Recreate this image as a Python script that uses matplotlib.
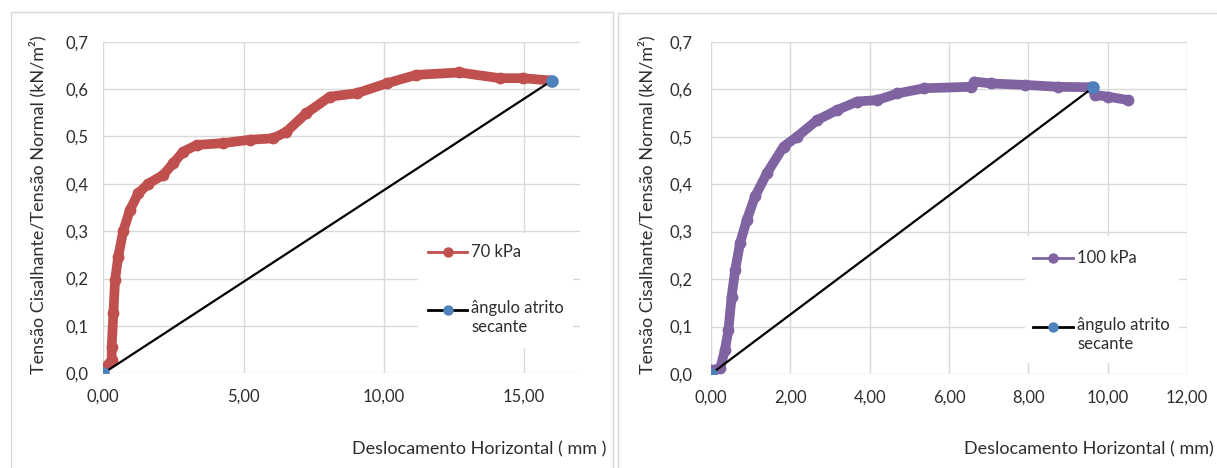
import matplotlib
matplotlib.use("Agg")
import matplotlib.pyplot as plt
from matplotlib.lines import Line2D
from matplotlib.patches import Rectangle

plt.rcParams['font.family'] = ['Lato', 'DejaVu Sans']

# 70 kPa test: displacement (mm) vs shear/normal stress ratio
disp_70 = [0.0, 0.30, 0.30, 0.36, 0.42, 0.53, 0.71, 0.95, 1.25, 1.60, 2.14, 2.49,
           2.85, 3.33, 4.28, 5.23, 6.06, 6.53, 7.24, 8.08, 9.03, 10.10, 11.16,
           12.70, 14.13, 14.96, 15.97]
ratio_70 = [0.007, 0.028, 0.056, 0.127, 0.197, 0.246, 0.300, 0.345, 0.380, 0.400,
            0.419, 0.443, 0.468, 0.482, 0.486, 0.493, 0.496, 0.510, 0.549, 0.584,
            0.591, 0.612, 0.630, 0.635, 0.623, 0.623, 0.618]
secant_70_x = [0.0, 16.0]
secant_70_y = [0.0, 0.618]

# 100 kPa test
disp_100 = [0.0, 0.23, 0.35, 0.44, 0.52, 0.61, 0.73, 0.90, 1.11, 1.41, 1.83, 2.17,
            2.68, 3.18, 3.69, 4.19, 4.70, 5.38, 6.56, 6.64, 7.06, 7.91, 8.75,
            9.59, 9.68, 10.02, 10.52]
ratio_100 = [0.008, 0.012, 0.050, 0.093, 0.163, 0.219, 0.275, 0.324, 0.374, 0.423,
             0.479, 0.500, 0.535, 0.556, 0.574, 0.577, 0.591, 0.602, 0.605, 0.616,
             0.612, 0.609, 0.605, 0.604, 0.588, 0.584, 0.577]
secant_100_x = [0.0, 9.64]
secant_100_y = [0.0, 0.604]

y_ticks = [0.0, 0.1, 0.2, 0.3, 0.4, 0.5, 0.6, 0.7]
x_ticks_70 = [0, 5, 10, 15]
x_ticks_100 = [0, 2, 4, 6, 8, 10, 12]

RED = '#C0504D'
PURPLE = '#8064A2'
BLUE = '#4F81BD'
GRID = '#D9D9D9'
TXT = '#2E2E2E'

W, H = 1217, 468
fig = plt.figure(figsize=(W / 100, H / 100), dpi=100)


def fx(px):
    return px / W


def fy(py):
    return 1 - py / H


def comma(v, nd):
    return f"{v:.{nd}f}".replace('.', ',')


def setup(ax, xmax, xticks, ypad):
    ax.set_xlim(0, xmax)
    ax.set_ylim(0, 0.7)
    ax.set_yticks(y_ticks)
    ax.set_yticklabels([comma(v, 1) for v in y_ticks])
    ax.set_xticks(xticks)
    ax.set_xticklabels([comma(v, 2) for v in xticks])
    ax.grid(True, color=GRID, lw=1.0)
    ax.set_axisbelow(True)
    for s in ax.spines.values():
        s.set_visible(False)
    ax.tick_params(length=0, labelsize=12, colors=TXT)
    ax.tick_params(axis='y', pad=ypad)
    ax.tick_params(axis='x', pad=11)


def draw_series(ax, x, y, color, sx, sy):
    ax.plot(x, y, color=color, lw=7.0, solid_capstyle='round',
            solid_joinstyle='round', zorder=3)
    ax.plot(x, y, 'o', color=color, ms=7.5, zorder=3)
    ax.plot(sx, sy, color='black', lw=1.6, zorder=4)
    ax.plot(sx, sy, 'o', color=BLUE, ms=8, zorder=5)


def legend(ax, box, series_label, color, y1, y2, x0, x1):
    bx0, by0, bx1, by1 = box
    ax.add_patch(Rectangle((fx(bx0), fy(by1)), fx(bx1) - fx(bx0), fy(by0) - fy(by1),
                           transform=fig.transFigure, facecolor='white',
                           edgecolor='none', zorder=2, clip_on=False))
    for yy, c in ((y1, color), (y2, 'black')):
        ax.add_line(Line2D([fx(x0), fx(x1)], [fy(yy), fy(yy)], color=c, lw=2,
                           transform=fig.transFigure, clip_on=False, zorder=6))
    ax.add_line(Line2D([fx((x0 + x1) / 2)], [fy(y1)], marker='o', ms=6.5, color=color,
                       transform=fig.transFigure, clip_on=False, zorder=7))
    ax.add_line(Line2D([fx((x0 + x1) / 2)], [fy(y2)], marker='o', ms=6.5, color=BLUE,
                       transform=fig.transFigure, clip_on=False, zorder=7))
    fig.text(fx(x1 + 4), fy(y1), series_label, fontsize=12, color=TXT,
             va='center', ha='left')
    fig.text(fx(x1 + 4), fy(y2 - 10), 'ângulo atrito\nsecante', fontsize=12,
             color=TXT, va='top', ha='left', linespacing=1.2)


ax1 = fig.add_axes([fx(103.3), fy(373.3), fx(580) - fx(103.3), fy(41.7) - fy(373.3)])
setup(ax1, 17, x_ticks_70, 11)
draw_series(ax1, disp_70, ratio_70, RED, secant_70_x, secant_70_y)
legend(ax1, (418, 233, 573, 348), '70 kPa', RED, 252, 310, 428, 467)

ax2 = fig.add_axes([fx(711), fy(374), fx(1187) - fx(711), fy(41.7) - fy(374)])
setup(ax2, 12, x_ticks_100, 13)
draw_series(ax2, disp_100, ratio_100, PURPLE, secant_100_x, secant_100_y)
legend(ax2, (1025, 236, 1179, 363), '100 kPa', PURPLE, 258, 327, 1033, 1073)

ylab = 'Tensão Cisalhante/Tensão Normal (kN/m²)'
fig.text(fx(38), fy(205), ylab, rotation=90, fontsize=13, color=TXT,
         ha='center', va='center')
fig.text(fx(647), fy(205), ylab, rotation=90, fontsize=13, color=TXT,
         ha='center', va='center')
fig.text(fx(606), fy(449), 'Deslocamento Horizontal ( mm )', fontsize=13,
         color=TXT, ha='right', va='center')
fig.text(fx(1214), fy(449), 'Deslocamento Horizontal ( mm)', fontsize=13,
         color=TXT, ha='right', va='center')

# chart area frames
fig.add_artist(Rectangle((fx(11), fy(480)), fx(613) - fx(11), fy(12) - fy(480),
                         transform=fig.transFigure, fill=False, edgecolor=GRID, lw=1))
fig.add_artist(Rectangle((fx(618), fy(480)), fx(1230) - fx(618), fy(13) - fy(480),
                         transform=fig.transFigure, fill=False, edgecolor=GRID, lw=1))

fig.savefig('out.png', dpi=100, facecolor='white')
